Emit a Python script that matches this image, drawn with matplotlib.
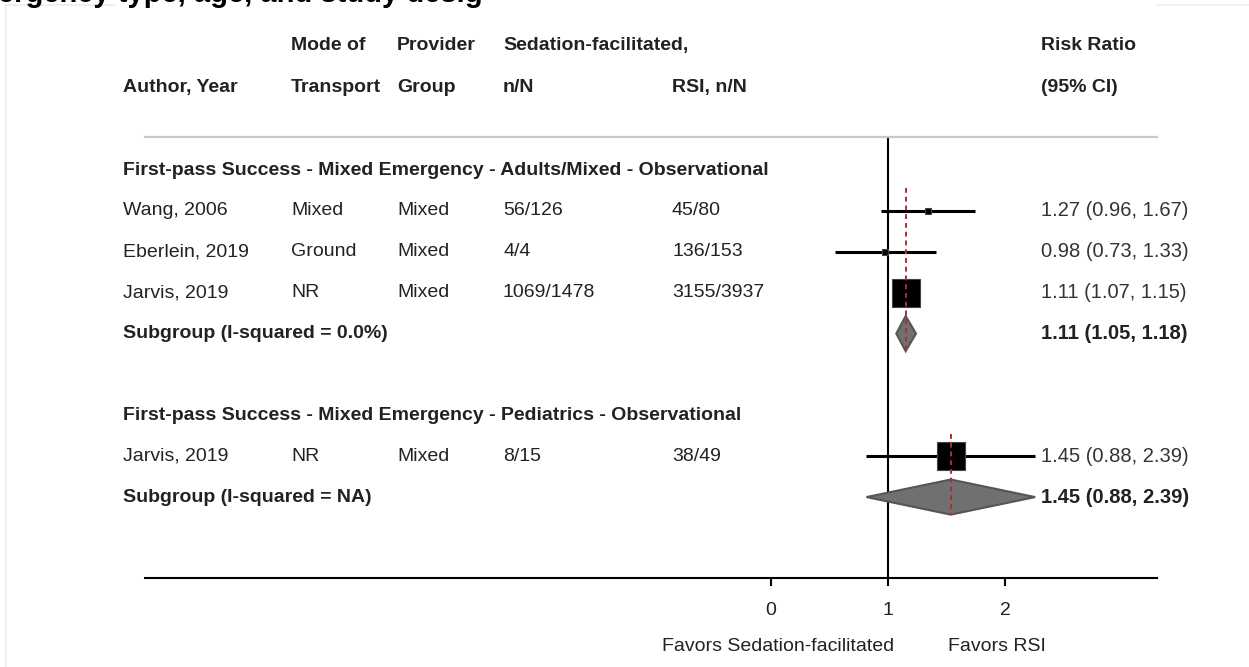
import matplotlib.pyplot as plt
import matplotlib.transforms as mtransforms
from matplotlib.lines import Line2D

plt.rcParams['font.family'] = ['Liberation Sans', 'DejaVu Sans']

# data
groups = ['First-pass Success - Mixed Emergency - Adults/Mixed - Observational',
          'First-pass Success - Mixed Emergency - Pediatrics - Observational']
authors = ['Wang, 2006', 'Eberlein, 2019', 'Jarvis, 2019', 'Jarvis, 2019']
study_group = [0, 0, 0, 1]
transport = ['Mixed', 'Ground', 'NR', 'NR']
provider = ['Mixed', 'Mixed', 'Mixed', 'Mixed']
sed_nN = ['56/126', '4/4', '1069/1478', '8/15']
rsi_nN = ['45/80', '136/153', '3155/3937', '38/49']
rr = [1.27, 0.98, 1.11, 1.45]
rr_lo = [0.96, 0.73, 1.07, 0.88]
rr_hi = [1.67, 1.33, 1.15, 2.39]
sub_labels = ['Subgroup (I-squared = 0.0%)', 'Subgroup (I-squared = NA)']
sub_rr = [1.11, 1.45]
sub_lo = [1.05, 0.88]
sub_hi = [1.18, 2.39]

box_size = [5, 4.3, 19.5, 20]   # marker size (pt), by study weight

W, H = 1249, 667
fig = plt.figure(figsize=(W / 100, H / 100), dpi=100)
ax = fig.add_axes([145 / W, 1 - 578 / H, (1157 - 145) / W, (578 - 137) / H])
ax.set_xscale('log')
ax.set_xlim(0.01225, 4.92)
ax.set_ylim(9.98, -0.81)

fs = 14
txtc = '#222222'
tr = mtransforms.blended_transform_factory(fig.transFigure, ax.transData)
cols = [123, 291, 397, 503, 672, 1041]


def put(x, y, s, bold=False, color=txtc, size=fs):
    ax.text(x / W, y, s, transform=tr, ha='left', va='center', fontsize=size,
            fontweight='bold' if bold else 'normal', color=color, clip_on=False)


# header
put(cols[1], -3.06, 'Mode of', True)
put(cols[2], -3.06, 'Provider', True)
put(cols[3], -3.06, 'Sedation-facilitated,', True)
put(cols[5], -3.06, 'Risk Ratio', True)
put(cols[0], -2.03, 'Author, Year', True)
put(cols[1], -2.03, 'Transport', True)
put(cols[2], -2.03, 'Group', True)
put(cols[3], -2.03, 'n/N', True)
put(cols[4], -2.03, 'RSI, n/N', True)
put(cols[5], -2.03, '(95% CI)', True)

row = 0
for g, gname in enumerate(groups):
    put(cols[0], row, gname, True)
    start = row
    row += 1
    for i in range(len(authors)):
        if study_group[i] != g:
            continue
        put(cols[0], row, authors[i])
        put(cols[1], row, transport[i])
        put(cols[2], row, provider[i])
        put(cols[3], row, sed_nN[i])
        put(cols[4], row, rsi_nN[i])
        put(cols[5], row, '%.2f (%.2f, %.2f)' % (rr[i], rr_lo[i], rr_hi[i]), color='#333333', size=14.5)
        ax.plot([rr_lo[i], rr_hi[i]], [row, row], color='black', lw=2.2, solid_capstyle='butt', zorder=3)
        ax.plot(rr[i], row, marker='s', ms=box_size[i], color='black', mec='#444444', mew=0.8, zorder=4)
        row += 1
    put(cols[0], row, sub_labels[g], True)
    put(cols[5], row, '%.2f (%.2f, %.2f)' % (sub_rr[g], sub_lo[g], sub_hi[g]), True, size=14.5)
    h = 0.43
    ax.fill([sub_lo[g], sub_rr[g], sub_hi[g], sub_rr[g]], [row, row - h, row, row + h],
            facecolor='#707070', edgecolor='#555555', lw=1.5, zorder=4)
    ax.plot([sub_rr[g], sub_rr[g]], [start + 0.45, row + 0.43], color='#a8303a', lw=1.4,
            ls=(0, (2.5, 2)), zorder=5)
    row += 2

ax.axvline(1, color='black', lw=1.5, zorder=2)

for s in ['left', 'right']:
    ax.spines[s].set_visible(False)
ax.spines['top'].set_color('#c8c8c8')
ax.spines['top'].set_linewidth(1.6)
ax.spines['bottom'].set_linewidth(1.5)
ax.set_yticks([])
ax.set_xticks([0.5, 1, 2])
ax.set_xticklabels(['0', '1', '2'])
ax.xaxis.set_minor_locator(plt.NullLocator())
ax.tick_params(axis='x', length=6, width=1.5, pad=11, labelsize=fs, labelcolor=txtc)

ax.text(0.52, 11.66, 'Favors Sedation-facilitated', ha='center', va='center', fontsize=fs,
        color=txtc, clip_on=False)
ax.text(1.91, 11.66, 'Favors RSI', ha='center', va='center', fontsize=fs, color=txtc, clip_on=False)

# cropped title and faint page border
fig.text(-2 / W, 1 - 2 / H, 'ergency type, age, and study desig', fontsize=21, fontweight='bold',
         ha='left', va='baseline', color='black')
bc = '#e6edf1'
fig.add_artist(Line2D([6 / W, 6 / W], [0, 1 - 5 / H], color=bc, lw=1.2))
fig.add_artist(Line2D([6 / W, 115 / W], [1 - 5 / H, 1 - 5 / H], color=bc, lw=1.2))
fig.add_artist(Line2D([1157 / W, 1], [1 - 5 / H, 1 - 5 / H], color=bc, lw=1.2))

fig.savefig('out.png', dpi=100)
